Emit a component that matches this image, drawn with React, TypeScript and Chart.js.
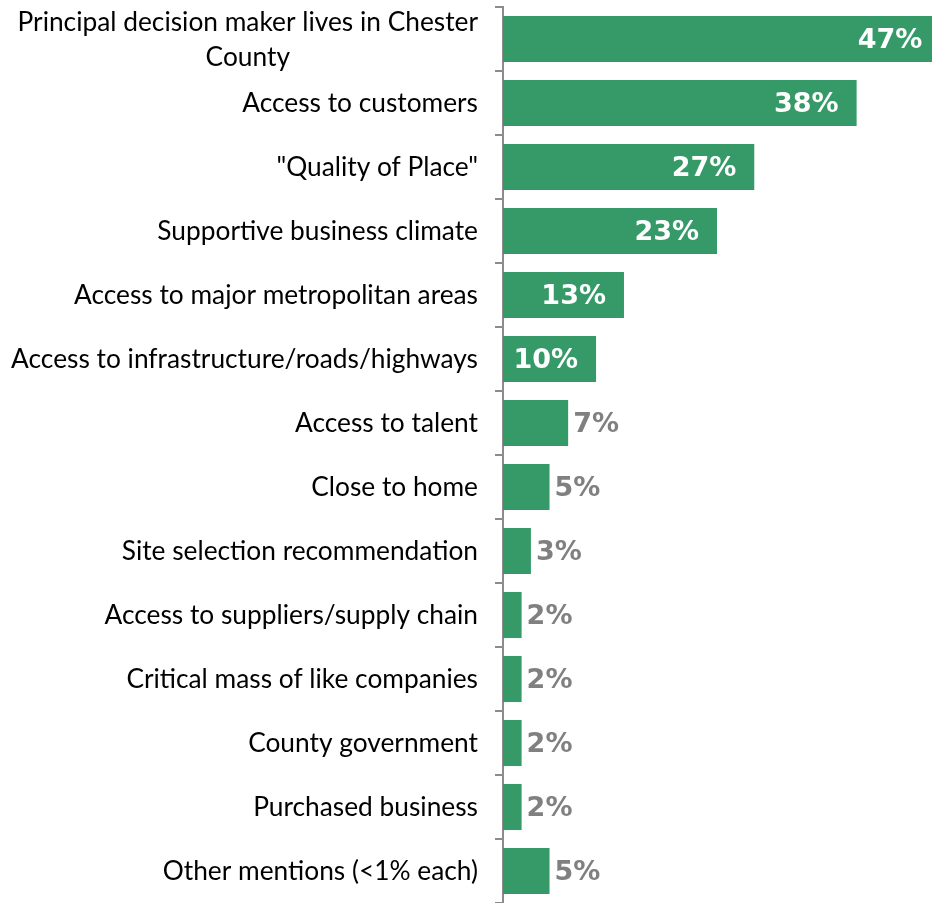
import React, { useEffect, useRef } from 'react';
import { Chart, registerables } from 'chart.js';

Chart.register(...registerables);

const categories: (string | string[])[] = [
  ['Principal decision maker lives in Chester', 'County'],
  'Access to customers',
  '"Quality of Place"',
  'Supportive business climate',
  'Access to major metropolitan areas',
  'Access to infrastructure/roads/highways',
  'Access to talent',
  'Close to home',
  'Site selection recommendation',
  'Access to suppliers/supply chain',
  'Critical mass of like companies',
  'County government',
  'Purchased business',
  'Other mentions (<1% each)',
];

const values: number[] = [47, 38, 27, 23, 13, 10, 7, 5, 3, 2, 2, 2, 2, 5];

const BAR_COLOR = '#359A68';
const AXIS_COLOR = '#8C8C8C';
const LABEL_GRAY = '#808080';
const CAT_FONT = 'Lato';
const VAL_FONT = '"DejaVu Sans"';

const categoryLabelPlugin = {
  id: 'categoryLabels',
  afterDraw(chart: any) {
    const ctx = chart.ctx;
    const yScale = chart.scales.y;
    const labels = chart.data.labels as (string | string[])[];
    ctx.save();
    ctx.font = `400 20px ${CAT_FONT}`;
    let maxLine = 0;
    labels.forEach((l) => {
      const lines = Array.isArray(l) ? l : [l];
      if (lines.length === 1) maxLine = Math.max(maxLine, ctx.measureText(lines[0]).width);
    });
    const size = (20 * 467) / maxLine;
    ctx.font = `400 ${size}px ${CAT_FONT}`;
    ctx.fillStyle = '#000000';
    ctx.textBaseline = 'middle';
    ctx.textAlign = 'center';
    const right = chart.chartArea.left - 25;
    const lh = size * 1.3;
    labels.forEach((l, i) => {
      const lines = Array.isArray(l) ? l : [l];
      const cy = yScale.getPixelForValue(i);
      const maxW = Math.max(...lines.map((s) => ctx.measureText(s).width));
      const cx = right - maxW / 2;
      lines.forEach((s, j) => {
        ctx.fillText(s, cx, cy + (j - (lines.length - 1) / 2) * lh + 1);
      });
    });
    ctx.restore();
  },
};

const valueLabelPlugin = {
  id: 'valueLabels',
  afterDatasetsDraw(chart: any) {
    const ctx = chart.ctx;
    const meta = chart.getDatasetMeta(0);
    const data = chart.data.datasets[0].data as number[];
    ctx.save();
    ctx.font = `bold 27px ${VAL_FONT}`;
    ctx.textBaseline = 'middle';
    ctx.textAlign = 'left';
    meta.data.forEach((el: any, i: number) => {
      const v = data[i];
      const text = `${v}%`;
      const w = ctx.measureText(text).width;
      if (v >= 10) {
        ctx.fillStyle = '#FFFFFF';
        let left = el.x - 18 - w;
        if (left < el.base + 5) left = el.base + 5;
        ctx.fillText(text, left, el.y + 2);
      } else {
        ctx.fillStyle = LABEL_GRAY;
        ctx.fillText(text, el.x + 5, el.y + 2);
      }
    });
    ctx.restore();
  },
};

export default function App() {
  const canvasRef = useRef<HTMLCanvasElement | null>(null);

  useEffect(() => {
    if (!canvasRef.current) return;
    const chart = new Chart(canvasRef.current, {
      type: 'bar',
      data: {
        labels: categories,
        datasets: [
          {
            data: values,
            backgroundColor: BAR_COLOR,
            borderWidth: 0,
            barPercentage: 0.9,
            categoryPercentage: 0.8,
          },
        ],
      },
      options: {
        indexAxis: 'y',
        responsive: false,
        animation: false,
        devicePixelRatio: 1,
        layout: { padding: { top: 7, bottom: 0, left: 0, right: 0 } },
        plugins: {
          legend: { display: false },
          tooltip: { enabled: false },
          title: { display: false },
        },
        scales: {
          x: {
            display: false,
            min: 0,
            max: 46.1,
          },
          y: {
            grid: {
              offset: true,
              drawOnChartArea: false,
              drawTicks: true,
              tickLength: 8,
              color: AXIS_COLOR,
              lineWidth: 2,
            },
            border: { display: true, color: AXIS_COLOR, width: 2 },
            ticks: { display: false },
            afterFit: (scale: any) => {
              scale.width = 503;
            },
          },
        },
      },
      plugins: [categoryLabelPlugin, valueLabelPlugin],
    } as any);
    return () => chart.destroy();
  }, []);

  return (
    <div style={{ position: 'absolute', left: 0, top: 0, width: 932, height: 903, background: '#ffffff' }}>
      <canvas ref={canvasRef} width={932} height={903} style={{ display: 'block' }} />
    </div>
  );
}
